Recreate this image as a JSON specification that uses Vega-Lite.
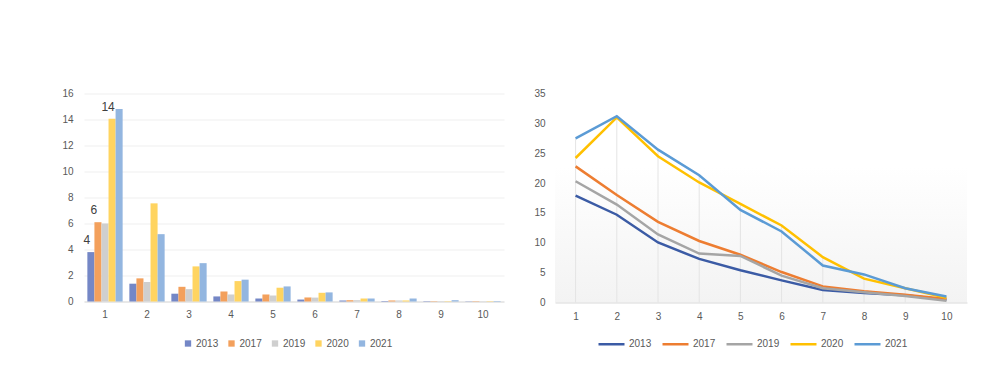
{
  "$schema": "https://vega.github.io/schema/vega-lite/v6.json",
  "padding": {"left": 61, "top": 88.5, "right": 5, "bottom": 5},
  "background": "white",
  "spacing": 51,
  "bounds": "flush",
  "config": {
    "font": "Liberation Sans",
    "view": {"stroke": null},
    "axis": {"labelFont": "Liberation Sans", "labelFontSize": 10, "labelColor": "#595959", "ticks": false, "title": null},
    "legend": {"labelFont": "Liberation Sans", "labelFontSize": 10, "labelColor": "#595959", "title": null}
  },
  "resolve": {"scale": {"color": "independent", "x": "independent", "y": "independent"}},
  "datasets": {
    "bars": [
      {"rank": 1, "year": "2013", "value": 3.8, "label": "4"},
      {"rank": 1, "year": "2017", "value": 6.1, "label": "6"},
      {"rank": 1, "year": "2019", "value": 6.0},
      {"rank": 1, "year": "2020", "value": 14.05, "label": "14"},
      {"rank": 1, "year": "2021", "value": 14.8},
      {"rank": 2, "year": "2013", "value": 1.37},
      {"rank": 2, "year": "2017", "value": 1.78},
      {"rank": 2, "year": "2019", "value": 1.5},
      {"rank": 2, "year": "2020", "value": 7.55},
      {"rank": 2, "year": "2021", "value": 5.18},
      {"rank": 3, "year": "2013", "value": 0.6},
      {"rank": 3, "year": "2017", "value": 1.13},
      {"rank": 3, "year": "2019", "value": 0.95},
      {"rank": 3, "year": "2020", "value": 2.7},
      {"rank": 3, "year": "2021", "value": 2.95},
      {"rank": 4, "year": "2013", "value": 0.39},
      {"rank": 4, "year": "2017", "value": 0.77},
      {"rank": 4, "year": "2019", "value": 0.54},
      {"rank": 4, "year": "2020", "value": 1.57},
      {"rank": 4, "year": "2021", "value": 1.68},
      {"rank": 5, "year": "2013", "value": 0.23},
      {"rank": 5, "year": "2017", "value": 0.54},
      {"rank": 5, "year": "2019", "value": 0.46},
      {"rank": 5, "year": "2020", "value": 1.06},
      {"rank": 5, "year": "2021", "value": 1.16},
      {"rank": 6, "year": "2013", "value": 0.15},
      {"rank": 6, "year": "2017", "value": 0.31},
      {"rank": 6, "year": "2019", "value": 0.3},
      {"rank": 6, "year": "2020", "value": 0.67},
      {"rank": 6, "year": "2021", "value": 0.7},
      {"rank": 7, "year": "2013", "value": 0.08},
      {"rank": 7, "year": "2017", "value": 0.1},
      {"rank": 7, "year": "2019", "value": 0.1},
      {"rank": 7, "year": "2020", "value": 0.23},
      {"rank": 7, "year": "2021", "value": 0.23},
      {"rank": 8, "year": "2013", "value": 0.04},
      {"rank": 8, "year": "2017", "value": 0.08},
      {"rank": 8, "year": "2019", "value": 0.08},
      {"rank": 8, "year": "2020", "value": 0.08},
      {"rank": 8, "year": "2021", "value": 0.23},
      {"rank": 9, "year": "2013", "value": 0.03},
      {"rank": 9, "year": "2017", "value": 0.03},
      {"rank": 9, "year": "2019", "value": 0.03},
      {"rank": 9, "year": "2020", "value": 0.03},
      {"rank": 9, "year": "2021", "value": 0.1},
      {"rank": 10, "year": "2013", "value": 0.02},
      {"rank": 10, "year": "2017", "value": 0.03},
      {"rank": 10, "year": "2019", "value": 0.02},
      {"rank": 10, "year": "2020", "value": 0.03},
      {"rank": 10, "year": "2021", "value": 0.04}
    ],
    "lines": [
      {"rank": 1, "year": "2013", "value": 17.9},
      {"rank": 2, "year": "2013", "value": 14.7},
      {"rank": 3, "year": "2013", "value": 10.05},
      {"rank": 4, "year": "2013", "value": 7.3},
      {"rank": 5, "year": "2013", "value": 5.4},
      {"rank": 6, "year": "2013", "value": 3.7},
      {"rank": 7, "year": "2013", "value": 2.1},
      {"rank": 8, "year": "2013", "value": 1.6},
      {"rank": 9, "year": "2013", "value": 1.2},
      {"rank": 10, "year": "2013", "value": 0.45},
      {"rank": 1, "year": "2017", "value": 22.8},
      {"rank": 2, "year": "2017", "value": 18.0},
      {"rank": 3, "year": "2017", "value": 13.5},
      {"rank": 4, "year": "2017", "value": 10.3},
      {"rank": 5, "year": "2017", "value": 8.0},
      {"rank": 6, "year": "2017", "value": 5.1},
      {"rank": 7, "year": "2017", "value": 2.7},
      {"rank": 8, "year": "2017", "value": 1.9},
      {"rank": 9, "year": "2017", "value": 1.3},
      {"rank": 10, "year": "2017", "value": 0.6},
      {"rank": 1, "year": "2019", "value": 20.3},
      {"rank": 2, "year": "2019", "value": 16.4},
      {"rank": 3, "year": "2019", "value": 11.4},
      {"rank": 4, "year": "2019", "value": 8.2},
      {"rank": 5, "year": "2019", "value": 7.8},
      {"rank": 6, "year": "2019", "value": 4.5},
      {"rank": 7, "year": "2019", "value": 2.4},
      {"rank": 8, "year": "2019", "value": 1.7},
      {"rank": 9, "year": "2019", "value": 1.1},
      {"rank": 10, "year": "2019", "value": 0.3},
      {"rank": 1, "year": "2020", "value": 24.2},
      {"rank": 2, "year": "2020", "value": 31.0},
      {"rank": 3, "year": "2020", "value": 24.5},
      {"rank": 4, "year": "2020", "value": 20.1},
      {"rank": 5, "year": "2020", "value": 16.5},
      {"rank": 6, "year": "2020", "value": 12.9},
      {"rank": 7, "year": "2020", "value": 7.6},
      {"rank": 8, "year": "2020", "value": 4.0},
      {"rank": 9, "year": "2020", "value": 2.4},
      {"rank": 10, "year": "2020", "value": 0.8},
      {"rank": 1, "year": "2021", "value": 27.5},
      {"rank": 2, "year": "2021", "value": 31.2},
      {"rank": 3, "year": "2021", "value": 25.6},
      {"rank": 4, "year": "2021", "value": 21.3},
      {"rank": 5, "year": "2021", "value": 15.5},
      {"rank": 6, "year": "2021", "value": 11.9},
      {"rank": 7, "year": "2021", "value": 6.2},
      {"rank": 8, "year": "2021", "value": 4.7},
      {"rank": 9, "year": "2021", "value": 2.4},
      {"rank": 10, "year": "2021", "value": 1.0}
    ]
  },
  "hconcat": [
    {
      "width": 420,
      "height": 208,
      "data": {"name": "bars"},
      "encoding": {
        "x": {"field": "rank", "type": "ordinal", "scale": {"paddingInner": 0.16, "paddingOuter": 0.08},
              "axis": {"labelAngle": 0, "domainColor": "#d9d9d9", "labelPadding": 8}},
        "xOffset": {"field": "year", "type": "nominal", "scale": {"paddingInner": 0, "paddingOuter": 0}},
        "y": {"field": "value", "type": "quantitative", "scale": {"domain": [0, 16], "nice": false},
              "axis": {"values": [0, 2, 4, 6, 8, 10, 12, 14, 16], "domain": false, "gridColor": "#efefef", "labelPadding": 11}}
      },
      "layer": [
        {
          "mark": {"type": "bar"},
          "encoding": {
            "color": {"field": "year", "type": "nominal",
              "scale": {"domain": ["2013", "2017", "2019", "2020", "2021"], "range": ["#7487c6", "#f3a05c", "#cfcfcf", "#ffd460", "#93b6e0"]},
              "legend": {"orient": "none", "direction": "horizontal", "columns": 5, "legendX": 99, "legendY": 245,
                         "symbolType": "square", "symbolSize": 40, "symbolStrokeWidth": 0, "labelOffset": 3, "columnPadding": 7.5}}
          }
        },
        {
          "transform": [{"filter": "datum.label != null"}],
          "mark": {"type": "text", "baseline": "bottom", "align": "center", "dy": -5, "dx": -4, "fontSize": 12, "color": "#404040"},
          "encoding": {"text": {"field": "label"}}
        }
      ]
    },
    {
      "width": 412,
      "height": 209,
      "data": {"name": "lines"},
      "view": {"fill": {"gradient": "linear", "x1": 0, "y1": 0, "x2": 0, "y2": 1,
               "stops": [{"offset": 0, "color": "#ffffff"}, {"offset": 0.35, "color": "#ffffff"}, {"offset": 1, "color": "#f3f3f3"}]}},
      "encoding": {
        "x": {"field": "rank", "type": "ordinal", "scale": {"type": "point", "padding": 0.5},
              "axis": {"labelAngle": 0, "domainColor": "#d9d9d9", "labelPadding": 9, "grid": false}},
        "y": {"field": "value", "type": "quantitative", "scale": {"domain": [0, 35], "nice": false},
              "axis": {"values": [0, 5, 10, 15, 20, 25, 30, 35], "domain": false, "grid": false, "labelPadding": 10}}
      },
      "layer": [
        {
          "mark": {"type": "rule", "color": "#e4e4e4", "strokeWidth": 1},
          "encoding": {
            "y": {"aggregate": "max", "field": "value", "type": "quantitative"},
            "y2": {"datum": 0}
          }
        },
        {
          "mark": {"type": "line", "strokeWidth": 2.5},
          "encoding": {
            "color": {"field": "year", "type": "nominal",
              "scale": {"domain": ["2013", "2017", "2019", "2020", "2021"], "range": ["#3b5ba5", "#ed7d31", "#a5a5a5", "#ffc000", "#5b9bd5"]},
              "legend": {"orient": "none", "direction": "horizontal", "columns": 5, "legendX": 42, "legendY": 236,
                         "symbolType": "stroke", "symbolSize": 676, "symbolStrokeWidth": 2.5, "labelOffset": 3, "columnPadding": 5}}
          }
        }
      ]
    }
  ]
}
